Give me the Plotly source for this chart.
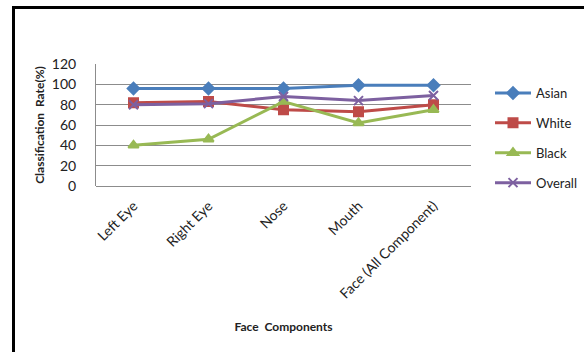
import plotly.graph_objects as go

# Classification rate per face component, by group
components = ["Left Eye", "Right Eye", "Nose", "Mouth", "Face (All Component)"]
asian = [96, 96, 96, 99, 99]
white = [82, 83, 75, 73, 80]
black = [40, 46, 83, 62, 75]
overall = [80, 81, 88, 84, 89]
y_ticks = [0, 20, 40, 60, 80, 100, 120]

W, H = 584, 352
L, R, T, B = 96, 113, 64, 166

FONT = "Lato, 'Open Sans', Arial, sans-serif"

series = [
    ("Asian", asian, "#4A7EBB", "diamond", 9),
    ("White", white, "#BE4B48", "square", 9),
    ("Black", black, "#98B954", "triangle-up", 9),
    ("Overall", overall, "#7D60A0", "x-thin", 9),
]

fig = go.Figure()
for name, vals, color, sym, size in series:
    fig.add_trace(go.Scatter(
        x=components, y=vals, name=name, mode="lines+markers",
        legendgroup=name,
        line=dict(color=color, width=3),
        marker=dict(symbol=sym, size=size, color=color,
                    line=dict(color=color, width=2)),
    ))

pw = W - L - R
ph = H - T - B


def px_x(p):
    return (p - L) / pw


def px_y(p):
    return 1 - (p - T) / ph


fig.update_layout(
    width=W, height=H,
    margin=dict(l=L, r=R, t=T, b=B, autoexpand=False),
    paper_bgcolor="white", plot_bgcolor="white",
    font=dict(family=FONT, size=12, color="#222"),
    showlegend=True,
    legend=dict(x=px_x(490), y=px_y(78), xanchor="left", yanchor="top",
                font=dict(size=13, color="#222"), tracegroupgap=10,
                itemwidth=36, bgcolor="rgba(0,0,0,0)", maxheight=220),
    xaxis=dict(
        type="category", range=[-0.5, 4.5], tickangle=-45,
        showgrid=False, showline=False, ticks="",
        tickfont=dict(size=14), ticklabelstandoff=8,
        title=dict(text="<b>Face  Components</b>", font=dict(size=12), standoff=21),
    ),
    yaxis=dict(
        range=[0, 120], tickvals=y_ticks, showgrid=True,
        gridcolor="#8C8C8C", gridwidth=1, zeroline=True,
        zerolinecolor="#8C8C8C", zerolinewidth=1,
        showline=True, linecolor="#8C8C8C", linewidth=1, ticks="",
        tickfont=dict(size=14), ticklabelstandoff=16,
        title=dict(text="<b>Classification  Rate(%)</b>", font=dict(size=12), standoff=4),
    ),
)

# Outer frame: left and top edges of the chart border
fig.add_shape(type="line", xref="paper", yref="paper",
              x0=px_x(13.5), x1=px_x(13.5), y0=px_y(7.5), y1=px_y(H + 5),
              line=dict(color="black", width=3))
fig.add_shape(type="line", xref="paper", yref="paper",
              x0=px_x(12), x1=px_x(W + 5), y0=px_y(7.5), y1=px_y(7.5),
              line=dict(color="black", width=3))

fig.write_html("out.html")
